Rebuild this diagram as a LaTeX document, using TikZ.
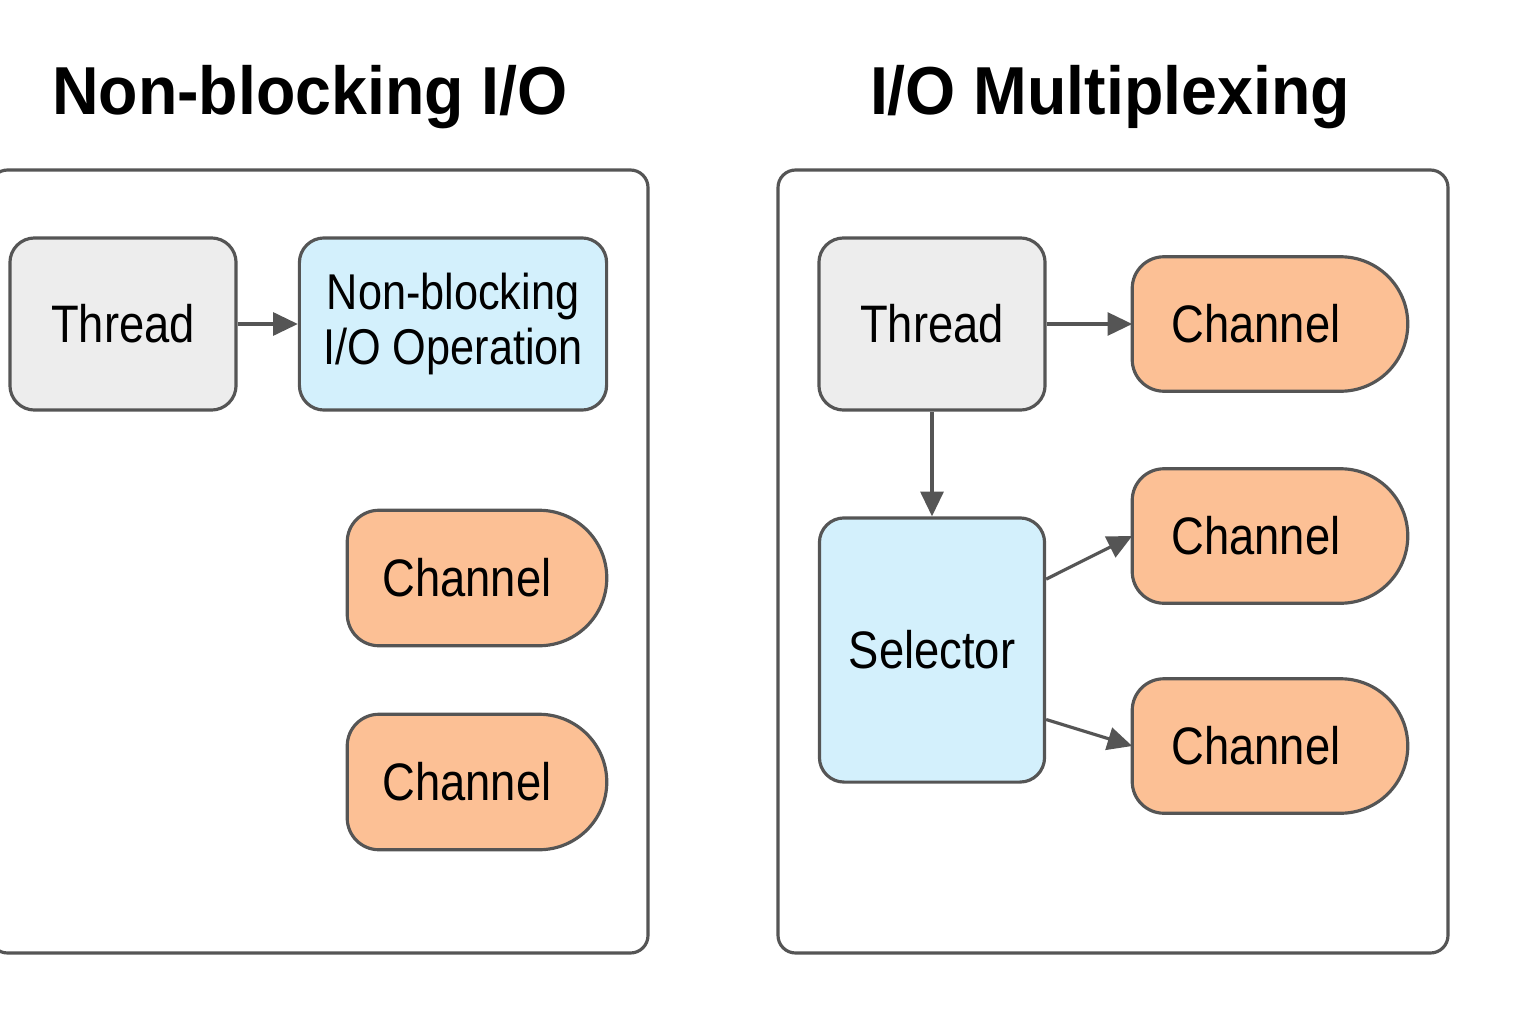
\documentclass[tikz,border=0pt]{standalone}
\usepackage{fontspec}
\setmainfont{Liberation Sans}[FakeStretch=0.86]
\newfontfamily\titlefont{Liberation Sans}[FakeStretch=0.95]
\usetikzlibrary{arrows.meta,calc,backgrounds}

\definecolor{edgegray}{HTML}{555555}
\definecolor{threadfill}{HTML}{EDEDED}
\definecolor{opfill}{HTML}{D3F0FC}
\definecolor{chanfill}{HTML}{FCC095}

\tikzset{
    box/.style={draw=edgegray, line width=0.9pt, rounded corners=7pt,
        inner sep=0pt, align=center, font=\fontsize{15}{18}\selectfont},
    threadbox/.style={box, fill=threadfill, minimum width=2.26cm, minimum height=1.72cm},
    opbox/.style={box, fill=opfill},
    channel/.style={inner sep=0pt, font=\fontsize{15}{18}\selectfont,
        execute at end node={\hspace{#1}}},
    channel/.default=0.2cm,
    chanline/.style={draw=edgegray, line width=0.9pt, fill=chanfill},
    frame/.style={draw=edgegray, line width=0.9pt, rounded corners=5pt},
    heading/.style={font=\titlefont\bfseries\fontsize{19.3}{22}\selectfont},
    link/.style={draw=edgegray, line width=0.9pt, -{Triangle[length=7pt,width=6.5pt]}}
}

\begin{document}
\begin{tikzpicture}[x=0.01cm, y=-0.01cm]
    \useasboundingbox (0,0) rectangle (1536,1024);

    % headings
    \node[heading] (nbtitle) at (310,97) {Non-blocking I/O};
    \node[heading] (mxtitle) at (1110,97) {I/O Multiplexing};

    % frames
    \draw[frame] (-10,170) rectangle (648,953);
    \draw[frame] (778,170) rectangle (1448,953);

    % non-blocking side
    \node[threadbox] (nbthread) at (123,324) {Thread};
    \node[opbox, minimum width=3.07cm, minimum height=1.72cm,
        font=\fontsize{14.3}{15.5}\selectfont] (nbop) at (453,324)
        {Non-blocking\\I/O Operation};
    \node[channel, minimum width=2.58cm, minimum height=1.34cm] (nbch1) at (477,578) {Channel};
    \node[channel, minimum width=2.58cm, minimum height=1.34cm] (nbch2) at (477,782) {Channel};

    \draw[link] (nbthread) -- (nbop);

    % multiplexing side
    \node[threadbox] (mxthread) at (932,324) {Thread};
    \node[opbox, minimum width=2.25cm, minimum height=2.64cm] (selector) at (932,650) {Selector};
    \node[channel=0.28cm, minimum width=2.74cm, minimum height=1.33cm] (mxch1) at (1270,324) {Channel};
    \node[channel=0.28cm, minimum width=2.74cm, minimum height=1.33cm] (mxch2) at (1270,536) {Channel};
    \node[channel=0.28cm, minimum width=2.74cm, minimum height=1.33cm] (mxch3) at (1270,746) {Channel};

    \draw[link] (mxthread) -- (mxch1);
    \draw[link] (mxthread) -- (selector);
    \draw[link] ($(selector.north east)!0.235!(selector.south east)$) -- (mxch2.west);
    \draw[link] ($(selector.north east)!0.76!(selector.south east)$) -- (mxch3.west);

    % channel outlines: square-ish left end, round right end
    \begin{scope}[on background layer]
        \foreach \ch in {nbch1,nbch2,mxch1,mxch2,mxch3} {
            \path[chanline] let \p1=(\ch.north west), \p2=(\ch.south east),
                \n1={(\y1-\y2)/2} in
                (\x2-\n1,\y1) -- (\x1+9pt,\y1)
                arc[start angle=90, end angle=180, radius=9pt]
                -- (\x1,\y2+9pt)
                arc[start angle=180, end angle=270, radius=9pt]
                -- (\x2-\n1,\y2)
                arc[start angle=-90, end angle=90, radius=\n1] -- cycle;
        }
    \end{scope}

\end{tikzpicture}
\end{document}
